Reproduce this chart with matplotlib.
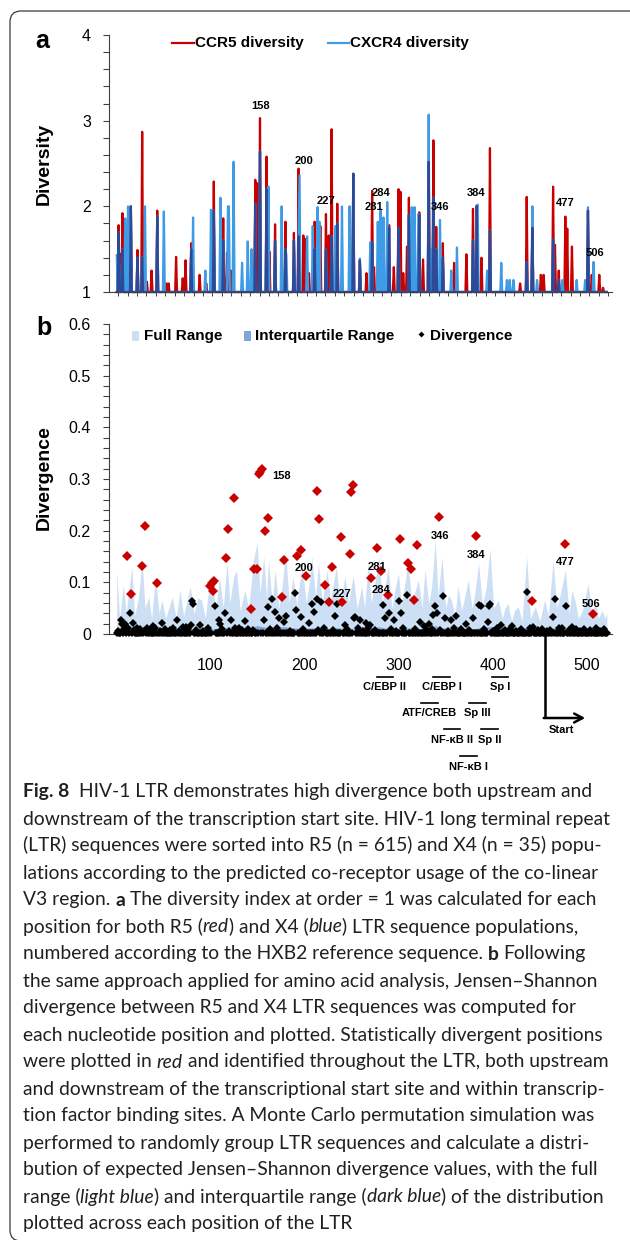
import numpy as np
import matplotlib
matplotlib.use("Agg")
from matplotlib import pyplot as plt
from matplotlib.lines import Line2D
from matplotlib.patches import FancyBboxPatch, Rectangle
from matplotlib.ticker import MultipleLocator, FixedLocator
from matplotlib.transforms import IdentityTransform, blended_transform_factory
from matplotlib.font_manager import FontProperties

plt.rcParams['font.family'] = ['Liberation Sans', 'DejaVu Sans']

W, H = 630, 1240

# LTR positions (HXB2 numbering)
positions = np.arange(1, 522)

# panel a: diversity spikes, all other positions sit at the floor value 1
ccr5_pos = [3, 5, 7, 16, 23, 28, 33, 38, 44, 54, 56, 64, 71, 74, 80, 89, 96, 104, 114, 118,
            122, 148, 150, 153, 160, 163, 169, 180, 189, 194, 199, 201, 205, 211, 217, 223,
            226, 229, 235, 252, 259, 266, 272, 274, 290, 295, 300, 302, 305, 309, 311, 322,
            326, 332, 337, 340, 347, 359, 372, 379, 383, 388, 397, 429, 436, 442, 451, 454, 464,
            466, 470, 477, 479, 484, 501, 505, 513, 517]
ccr5_val = [1.78, 1.44, 1.92, 2.00, 1.49, 2.87, 1.12, 1.25, 1.95, 1.10, 1.10, 1.41, 1.16, 1.37,
            1.57, 1.20, 1.10, 2.29, 1.86, 1.46, 1.25, 2.31, 2.27, 3.03, 2.58, 1.47, 1.79, 1.82,
            1.69, 2.44, 1.66, 1.62, 1.22, 1.82, 1.77, 1.91, 1.66, 2.90, 2.03, 2.38, 1.37, 1.22,
            2.18, 1.29, 1.78, 1.29, 2.20, 2.17, 1.22, 1.53, 2.10, 1.93, 1.38, 2.52, 2.77, 1.76,
            1.57, 1.34, 1.44, 1.97, 2.01, 1.40, 2.68, 1.10, 2.11, 1.75, 1.20, 1.20, 2.23, 1.55,
            1.25, 1.88, 1.74, 1.53, 1.95, 1.20, 1.20, 1.05]
cxcr4_pos = [1, 3, 7, 10, 13, 16, 23, 28, 31, 44, 51, 80, 82, 95, 101, 104, 111, 114, 119, 120,
             125, 134, 140, 144, 148, 153, 160, 162, 169, 176, 180, 181, 189, 194, 195, 203, 209,
             211, 214, 216, 223, 229, 233, 235, 240, 248, 252, 259, 270, 272, 278, 281, 284, 288,
             290, 300, 311, 314, 317, 321, 322, 332, 334, 337, 340, 344, 347, 356, 362, 379, 383,
             384, 394, 397, 409, 415, 418, 422, 436, 442, 447, 464, 470, 474, 489, 498, 501, 507]
cxcr4_val = [1.43, 1.70, 1.50, 1.86, 2.00, 2.00, 1.40, 1.41, 2.00, 1.88, 1.94, 1.50, 1.87, 1.25,
             1.96, 1.95, 2.10, 1.60, 2.00, 2.00, 2.52, 1.34, 1.59, 1.50, 2.03, 2.64, 2.20, 2.23,
             1.60, 2.00, 1.50, 1.43, 1.60, 1.65, 2.36, 1.65, 1.77, 1.50, 1.99, 1.82, 1.50, 1.65,
             1.77, 1.80, 2.00, 2.00, 2.38, 1.39, 1.58, 1.58, 1.82, 1.95, 1.87, 2.05, 1.75, 1.75,
             1.90, 1.99, 1.99, 1.91, 1.90, 3.07, 1.50, 2.10, 1.50, 1.84, 1.40, 1.25, 1.52, 1.60,
             2.00, 2.02, 1.25, 1.72, 1.34, 1.14, 1.14, 1.14, 1.35, 2.00, 1.14, 1.62, 1.14, 1.14,
             1.14, 1.14, 1.99, 1.35]

# panel b: statistically divergent positions (red)
sig_pos = [12, 16, 28, 31, 44, 100, 102, 103, 104, 117, 119, 125, 143, 147, 150, 152, 153, 155,
           158, 162, 176, 179, 192, 196, 202, 214, 216, 222, 226, 229, 239, 240, 248, 250, 252,
           271, 277, 281, 289, 302, 310, 313, 316, 320, 343, 382, 442, 477, 506]
sig_val = [0.151, 0.077, 0.132, 0.209, 0.099, 0.093, 0.098, 0.083, 0.103, 0.148, 0.204, 0.264,
           0.048, 0.126, 0.126, 0.310, 0.314, 0.319, 0.199, 0.225, 0.072, 0.143, 0.150, 0.163,
           0.113, 0.276, 0.222, 0.095, 0.061, 0.129, 0.188, 0.061, 0.155, 0.274, 0.288, 0.108,
           0.166, 0.121, 0.076, 0.183, 0.137, 0.125, 0.065, 0.172, 0.226, 0.190, 0.063, 0.175,
           0.039]

# panel b: other positions lifted off the floor (black)
div_pos = [6, 7, 10, 15, 18, 22, 33, 40, 49, 65, 71, 74, 80, 81, 82, 89, 105, 109, 111, 116,
           122, 131, 137, 157, 161, 166, 169, 173, 178, 181, 190, 191, 196, 197, 202, 205, 208,
           210, 213, 218, 233, 235, 239, 243, 253, 254, 257, 259, 266, 270, 284, 286, 290, 295,
           300, 303, 309, 323, 327, 332, 337, 339, 341, 347, 349, 356, 361, 372, 379, 385, 388,
           395, 396, 397, 409, 420, 436, 443, 464, 466, 470, 478, 484]
div_val = [0.028, 0.019, 0.019, 0.041, 0.021, 0.011, 0.011, 0.016, 0.022, 0.028, 0.014, 0.014,
           0.018, 0.063, 0.058, 0.017, 0.055, 0.027, 0.019, 0.040, 0.028, 0.012, 0.025, 0.027,
           0.053, 0.067, 0.043, 0.030, 0.023, 0.035, 0.080, 0.046, 0.028, 0.032, 0.042, 0.022,
           0.059, 0.042, 0.067, 0.061, 0.035, 0.058, 0.017, 0.017, 0.031, 0.032, 0.012, 0.028,
           0.022, 0.017, 0.057, 0.031, 0.040, 0.028, 0.063, 0.041, 0.075, 0.023, 0.016, 0.019,
           0.037, 0.054, 0.041, 0.073, 0.030, 0.028, 0.034, 0.019, 0.030, 0.056, 0.054, 0.024,
           0.055, 0.058, 0.017, 0.016, 0.081, 0.014, 0.032, 0.067, 0.012, 0.055, 0.014]
# the ragged band just above zero
low_pos = [2, 9, 13, 19, 26, 30, 36, 42, 47, 52, 58, 61, 67, 77, 85, 93, 98, 113, 120, 127, 134,
           140, 146, 164, 171, 185, 199, 215, 221, 231, 245, 262, 268, 275, 292, 297, 305, 318,
           330, 335, 344, 352, 359, 366, 375, 391, 400, 404, 413, 418, 425, 430, 440, 448, 452,
           458, 461, 473, 481, 488, 493, 497, 503, 509, 514, 518]
low_val = [0.006, 0.009, 0.012, 0.007, 0.010, 0.005, 0.008, 0.011, 0.006, 0.009, 0.007, 0.012,
           0.006, 0.010, 0.008, 0.005, 0.011, 0.009, 0.006, 0.012, 0.008, 0.010, 0.007, 0.009,
           0.011, 0.006, 0.010, 0.008, 0.012, 0.007, 0.009, 0.006, 0.011, 0.008, 0.010, 0.006,
           0.012, 0.009, 0.007, 0.010, 0.008, 0.006, 0.011, 0.009, 0.007, 0.010, 0.006, 0.012,
           0.008, 0.010, 0.006, 0.009, 0.011, 0.007, 0.010, 0.006, 0.008, 0.012, 0.007, 0.009,
           0.006, 0.010, 0.008, 0.011, 0.006, 0.009]
div_floor = 0.002

# panel b: permutation distribution, full range upper edge
range_pos = [1, 4, 8, 11, 14, 17, 20, 24, 28, 31, 35, 38, 42, 46, 49, 53, 57, 60, 64, 68, 72, 75,
             79, 83, 87, 91, 95, 98, 102, 106, 110, 114, 118, 121, 125, 128, 132, 137, 141, 146,
             150, 153, 157, 160, 162, 166, 169, 173, 177, 180, 184, 188, 192, 195, 198, 202, 205,
             208, 212, 215, 219, 224, 228, 231, 234, 238, 243, 247, 252, 256, 261, 264, 268, 271,
             275, 279, 283, 286, 289, 293, 296, 300, 303, 307, 310, 314, 318, 321, 325, 328, 332,
             335, 339, 342, 346, 350, 353, 356, 360, 363, 367, 370, 374, 378, 381, 385, 389, 393,
             397, 401, 406, 410, 413, 416, 420, 423, 427, 431, 436, 440, 445, 450, 455, 459, 464,
             468, 472, 477, 481, 484, 487, 491, 495, 498, 501, 505, 509, 512, 516, 519, 521]
range_hi = [0.124, 0.030, 0.095, 0.040, 0.085, 0.130, 0.035, 0.070, 0.143, 0.050, 0.072, 0.030,
            0.111, 0.040, 0.066, 0.030, 0.055, 0.072, 0.030, 0.085, 0.035, 0.060, 0.092, 0.040,
            0.070, 0.066, 0.030, 0.080, 0.117, 0.045, 0.111, 0.050, 0.140, 0.060, 0.110, 0.124,
            0.045, 0.085, 0.050, 0.143, 0.176, 0.080, 0.150, 0.070, 0.143, 0.060, 0.124, 0.050,
            0.100, 0.163, 0.060, 0.111, 0.055, 0.100, 0.130, 0.060, 0.095, 0.150, 0.070, 0.137,
            0.060, 0.124, 0.065, 0.100, 0.130, 0.055, 0.111, 0.060, 0.114, 0.050, 0.092, 0.050,
            0.143, 0.060, 0.100, 0.150, 0.060, 0.095, 0.130, 0.050, 0.085, 0.117, 0.055, 0.100,
            0.143, 0.060, 0.085, 0.105, 0.050, 0.124, 0.060, 0.090, 0.182, 0.070, 0.150, 0.050,
            0.075, 0.066, 0.035, 0.092, 0.045, 0.070, 0.105, 0.050, 0.080, 0.137, 0.055, 0.090,
            0.166, 0.050, 0.066, 0.030, 0.050, 0.059, 0.025, 0.045, 0.053, 0.025, 0.150, 0.030,
            0.053, 0.025, 0.066, 0.035, 0.143, 0.050, 0.080, 0.124, 0.040, 0.085, 0.066, 0.030,
            0.045, 0.070, 0.098, 0.040, 0.060, 0.030, 0.046, 0.030, 0.040]

# panel b: interquartile range upper edge
iqr_pos = [1, 15, 28, 45, 60, 80, 100, 118, 128, 146, 150, 162, 180, 198, 208, 224, 234, 252,
           268, 279, 289, 310, 328, 339, 346, 374, 385, 397, 436, 464, 477, 501, 521]
iqr_hi = [0.008, 0.010, 0.012, 0.006, 0.005, 0.008, 0.010, 0.012, 0.010, 0.014, 0.016, 0.012,
          0.014, 0.010, 0.012, 0.010, 0.012, 0.010, 0.012, 0.014, 0.010, 0.012, 0.010, 0.016,
          0.012, 0.008, 0.012, 0.014, 0.012, 0.012, 0.010, 0.008, 0.004]

# position labels
lab_a_text = ['158', '200', '227', '284', '281', '346', '384', '477', '506']
lab_a_x = [153.5, 200, 222.7, 281, 274, 344, 382, 476.7, 508.5]
lab_a_y = [3.17, 2.53, 2.06, 2.16, 1.99, 1.99, 2.16, 2.04, 1.46]
lab_b_text = ['158', '200', '227', '281', '284', '346', '384', '477', '506']
lab_b_x = [176, 200, 240.4, 277.5, 281, 344, 382.2, 476.7, 504.2]
lab_b_y = [0.306, 0.128, 0.077, 0.129, 0.085, 0.190, 0.153, 0.139, 0.058]

# transcription factor binding sites
tf_names = ['C/EBP II', 'C/EBP I', 'Sp I', 'ATF/CREB', 'Sp III', 'NF-κB II', 'Sp II', 'NF-κB I']
tf_start = [277, 337, 399, 324, 375, 348, 388, 365]
tf_end = [294, 355, 416, 342, 393, 365, 406, 383]
tf_row = [0, 0, 0, 1, 1, 2, 2, 3]
start_site = 455

RED = '#C80000'
LBLUE = '#3E9BE6'
NAVY = '#2C4A98'
FULL = '#CCDFF4'
IQR = '#7DA5DA'
SPINE = '#404040'


def fx(x):
    return x / W


def fy(y):
    return 1 - y / H


fig = plt.figure(figsize=(W / 100, H / 100), dpi=100)
fig.patch.set_facecolor('white')

# rounded frame round the figure
frame = FancyBboxPatch((10, -1), 660, H - 11 + 1, boxstyle='round,pad=0,rounding_size=11',
                       transform=IdentityTransform(), fill=False, ec='#3a3a3a', lw=0.9)
fig.add_artist(frame)

xlo, xhi = -7.2, 526.5

# ---------------- panel a ----------------
ccr5 = np.ones(len(positions))
ccr5[np.array(ccr5_pos) - 1] = ccr5_val
cxcr4 = np.ones(len(positions))
cxcr4[np.array(cxcr4_pos) - 1] = cxcr4_val

ax1 = fig.add_axes([fx(109), fy(292), (612 - 109) / W, (292 - 35) / H])
ax1.plot(positions, ccr5, color=RED, lw=1.6, clip_on=False)
ax1.plot(positions, cxcr4, color=LBLUE, lw=1.6, clip_on=False)
ax1.plot(positions, np.minimum(ccr5, cxcr4), color=NAVY, lw=1.6, clip_on=False)
ax1.set_xlim(xlo, xhi)
ax1.set_ylim(1, 4)
ax1.set_yticks([1, 2, 3, 4])
ax1.yaxis.set_minor_locator(MultipleLocator(0.2))
ax1.set_xticks([])
ax1.xaxis.set_minor_locator(FixedLocator(np.arange(2.5, 527, 10)))
for t, x, y in zip(lab_a_text, lab_a_x, lab_a_y):
    ax1.text(x, y, t, fontsize=8, fontweight='bold', ha='center', va='center')

# ---------------- panel b ----------------
ax2 = fig.add_axes([fx(109), fy(634), (612 - 109) / W, (634 - 324) / H])
ax2.fill_between(range_pos, 0, range_hi, color=FULL, lw=0, zorder=1)
ax2.fill_between(iqr_pos, 0, iqr_hi, color=IQR, lw=0, zorder=2)

div = np.full(len(positions), div_floor)
div[np.array(low_pos) - 1] = low_val
div[np.array(div_pos) - 1] = div_val
black = ~np.isin(positions, sig_pos)
ax2.plot(positions[black], div[black], 'D', color='black', ms=3.6, mew=0, clip_on=False, zorder=3)
ax2.plot(sig_pos, sig_val, 'D', color=RED, ms=5.6, mew=0, clip_on=False, zorder=4)
ax2.set_xlim(xlo, xhi)
ax2.set_ylim(0, 0.6)
ax2.set_yticks(np.arange(0, 0.61, 0.1))
ax2.set_yticklabels(['0', '0.1', '0.2', '0.3', '0.4', '0.5', '0.6'])
ax2.yaxis.set_minor_locator(MultipleLocator(0.02))
ax2.set_xticks([100, 200, 300, 400, 500])
for t, x, y in zip(lab_b_text, lab_b_x, lab_b_y):
    ax2.text(x, y, t, fontsize=8, fontweight='bold', ha='center', va='center', zorder=5)

for ax in (ax1, ax2):
    for s in ('top', 'right'):
        ax.spines[s].set_visible(False)
    for s in ('left', 'bottom'):
        ax.spines[s].set_color(SPINE)
        ax.spines[s].set_linewidth(0.8)
    ax.tick_params(axis='y', which='both', direction='out', length=4, width=0.8,
                   color=SPINE, labelsize=11.5, pad=9)
    ax.tick_params(axis='x', which='minor', direction='out', length=3, width=0.7, color=SPINE)
    ax.set_facecolor('none')
ax2.tick_params(axis='x', which='both', length=0, labelsize=11.5, pad=17)
ax2.tick_params(axis='x', which='minor', length=0)

# TF binding sites and start arrow below panel b
trans = blended_transform_factory(ax2.transData, fig.transFigure)
row_line_y = [676.7, 702.7, 729.0, 755.7]
for name, a, b, r in zip(tf_names, tf_start, tf_end, tf_row):
    ly = row_line_y[r]
    ax2.plot([a, b], [fy(ly), fy(ly)], color='black', lw=1.2, transform=trans, clip_on=False)
    ax2.text((a + b) / 2, fy(ly + 10.8), name, transform=trans, fontsize=8, fontweight='bold',
             ha='center', va='center')
ax2.plot([start_site, start_site], [fy(634), fy(718)], color='black', lw=1.8,
         transform=trans, clip_on=False, solid_capstyle='butt')
ax2.annotate('', xy=(498, fy(718)), xytext=(start_site - 0.9, fy(718)), xycoords=trans,
             textcoords=trans, annotation_clip=False,
             arrowprops=dict(arrowstyle='->,head_length=0.6,head_width=0.32', lw=1.8,
                             color='black', shrinkA=0, shrinkB=0))
ax2.text(473, fy(730), 'Start', transform=trans, fontsize=8, fontweight='bold',
         ha='center', va='center')

# legends, axis titles, panel letters
fig.add_artist(Line2D([fx(172), fx(194)], [fy(42.7)] * 2, color=RED, lw=1.6))
fig.text(fx(195), fy(42.7), 'CCR5 diversity', fontsize=11, fontweight='bold', va='center')
fig.add_artist(Line2D([fx(328), fx(349)], [fy(42.7)] * 2, color=LBLUE, lw=1.6))
fig.text(fx(350), fy(42.7), 'CXCR4 diversity', fontsize=11, fontweight='bold', va='center')

fig.add_artist(Rectangle((fx(131.5), fy(340.5)), 7 / W, 9.5 / H, transform=fig.transFigure,
                         color=FULL, lw=0))
fig.text(fx(144), fy(336), 'Full Range', fontsize=11, fontweight='bold', va='center')
fig.add_artist(Rectangle((fx(243.5), fy(340.5)), 7 / W, 9.5 / H, transform=fig.transFigure,
                         color=IQR, lw=0))
fig.text(fx(255), fy(336), 'Interquartile Range', fontsize=11, fontweight='bold', va='center')
fig.add_artist(Line2D([fx(421.5)], [fy(333.5)], marker='D', ms=3, mew=0, color='black'))
fig.text(fx(430), fy(336), 'Divergence', fontsize=11, fontweight='bold', va='center')

fig.text(fx(44), fy(164), 'Diversity', rotation=90, fontsize=14, fontweight='bold',
         ha='center', va='center')
fig.text(fx(44), fy(478), 'Divergence', rotation=90, fontsize=14, fontweight='bold',
         ha='center', va='center')
fig.text(fx(35), fy(48), 'a', fontsize=18, fontweight='bold', va='baseline')
fig.text(fx(36), fy(335), 'b', fontsize=18, fontweight='bold', va='baseline')

# ---------------- caption ----------------
caption = [
    [('Fig. 8', 'b'), ('  HIV-1 LTR demonstrates high divergence both upstream and', 'n')],
    [('downstream of the transcription start site. HIV-1 long terminal repeat', 'n')],
    [('(LTR) sequences were sorted into R5 (n = 615) and X4 (n = 35) popu-', 'n')],
    [('lations according to the predicted co-receptor usage of the co-linear', 'n')],
    [('V3 region. ', 'n'), ('a', 'b'), (' The diversity index at order = 1 was calculated for each', 'n')],
    [('position for both R5 (', 'n'), ('red', 'i'), (') and X4 (', 'n'), ('blue', 'i'),
     (') LTR sequence populations,', 'n')],
    [('numbered according to the HXB2 reference sequence. ', 'n'), ('b', 'b'), (' Following', 'n')],
    [('the same approach applied for amino acid analysis, Jensen–Shannon', 'n')],
    [('divergence between R5 and X4 LTR sequences was computed for', 'n')],
    [('each nucleotide position and plotted. Statistically divergent positions', 'n')],
    [('were plotted in ', 'n'), ('red', 'i'), (' and identified throughout the LTR, both upstream', 'n')],
    [('and downstream of the transcriptional start site and within transcrip-', 'n')],
    [('tion factor binding sites. A Monte Carlo permutation simulation was', 'n')],
    [('performed to randomly group LTR sequences and calculate a distri-', 'n')],
    [('bution of expected Jensen–Shannon divergence values, with the full', 'n')],
    [('range (', 'n'), ('light blue', 'i'), (') and interquartile range (', 'n'), ('dark blue', 'i'),
     (') of the distribution', 'n')],
    [('plotted across each position of the LTR', 'n')],
]
CAP_FONT = ['Lato', 'DejaVu Sans']
renderer = fig.canvas.get_renderer()


def text_w(s, fp):
    return renderer.get_text_width_height_descent(s, fp, ismath=False)[0]


def cap_prop(style, size):
    return FontProperties(family=CAP_FONT, size=size,
                          weight='bold' if style == 'b' else 'normal',
                          style='italic' if style == 'i' else 'normal')


def adv(s, fp):
    # advance width of s, spaces included
    return text_w('x' + s + 'x', fp) - text_w('xx', fp)


def lay_line(segs, size, at=None):
    x = 0.0
    for text, style in segs:
        fp = cap_prop(style, size)
        body = text.lstrip(' ')
        x += adv(text[:len(text) - len(body)], fp) if body != text else 0.0
        if at is not None and body:
            fig.text(fx(at[0] + x), fy(at[1]), body, fontproperties=fp,
                     va='baseline', ha='left', color='#231f20')
        x += adv(body, fp)
    return x


test = 10.0
widest = max(lay_line(line, test) for line in caption)
cap_size = test * 588 / widest
for i, line in enumerate(caption):
    lay_line(line, cap_size, at=(23, 797.5 + i * 27.0))

fig.savefig('out.png', dpi=100, facecolor='white')
